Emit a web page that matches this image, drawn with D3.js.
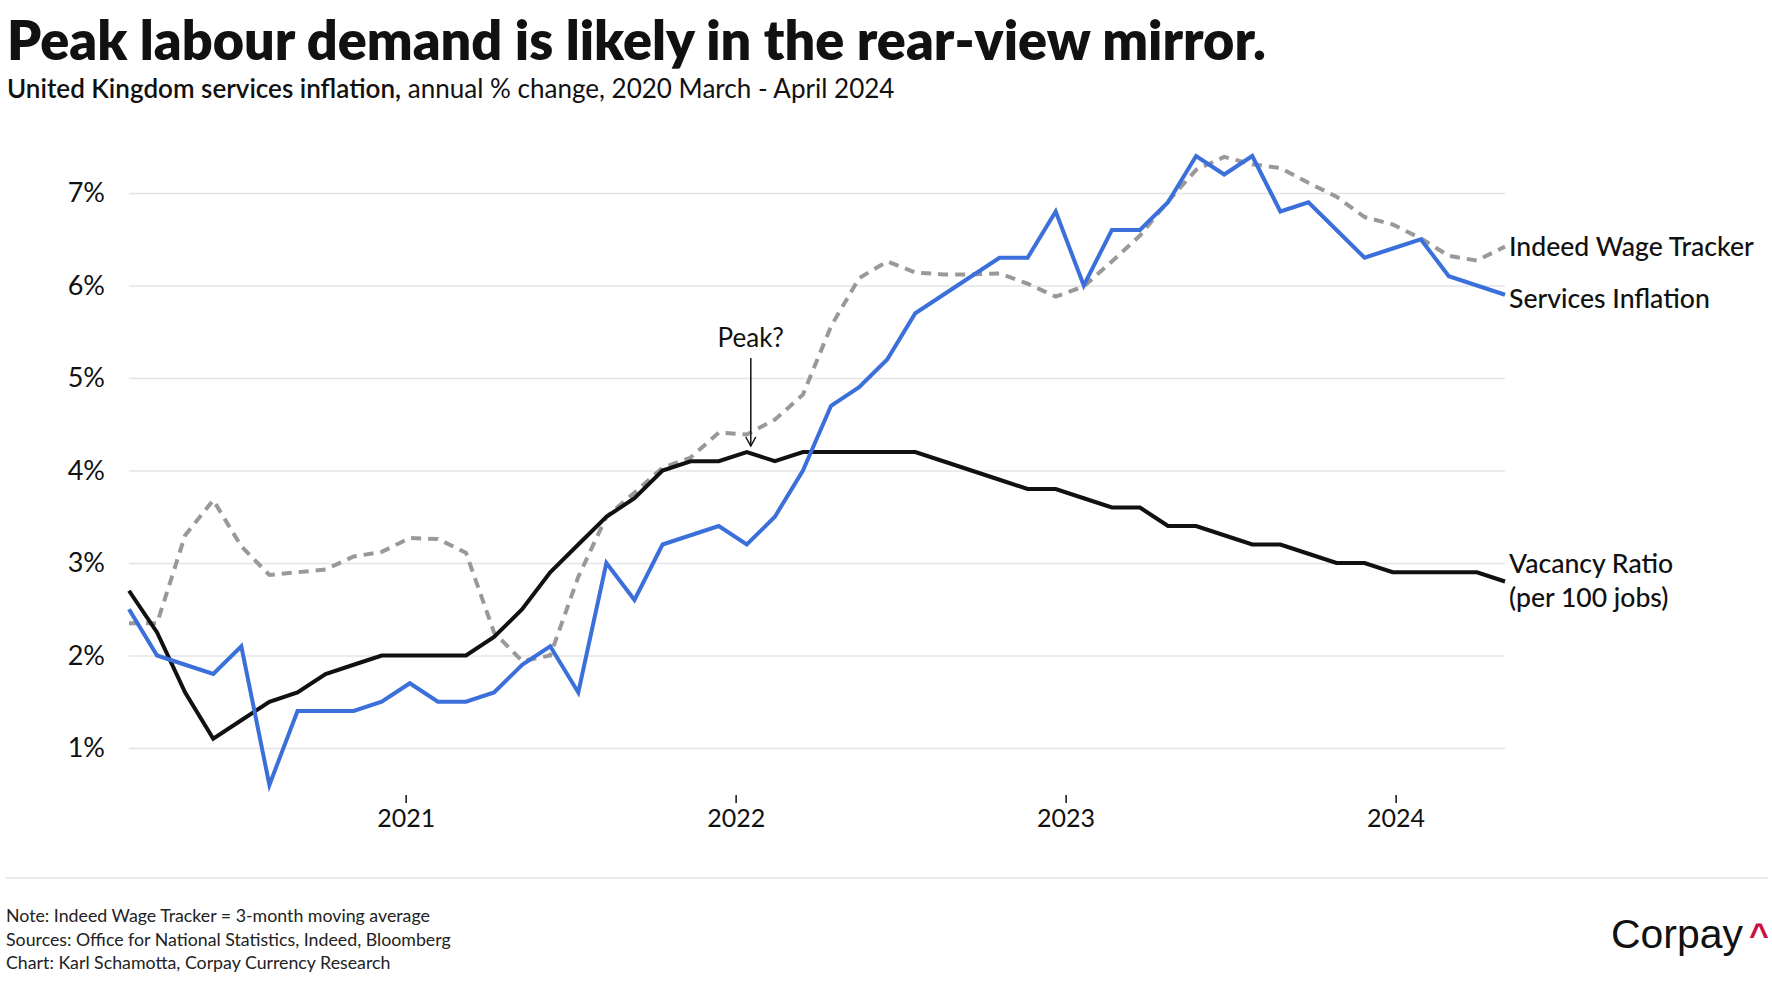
<!DOCTYPE html>
<html><head><meta charset="utf-8">
<script src="https://cdn.jsdelivr.net/npm/d3@7"></script>
<style>
body{margin:0;background:#fff;}
svg{display:block;font-family:Lato,'Noto Sans',sans-serif;}
</style>
</head><body>
<svg id="chart" width="1772" height="1000"></svg>
<script>
// ---------- DATA ----------
const firstMonth = "2020-03";
const lastMonth = "2024-04";
const servicesInflation = [2.5,2.0,1.9,1.8,2.1,0.6,1.4,1.4,1.4,1.5,
  1.7,1.5,1.5,1.6,1.9,2.1,1.6,3.0,2.6,3.2,
  3.3,3.4,3.2,3.5,4.0,4.7,4.9,5.2,5.7,5.9,
  6.1,6.3,6.3,6.8,6.0,6.6,6.6,6.9,7.4,7.2,
  7.4,6.8,6.9,6.6,6.3,6.4,6.5,6.1,6.0,5.9];
const vacancyRatio = [2.7,2.25,1.6,1.1,1.3,1.5,1.6,1.8,1.9,2.0,
  2.0,2.0,2.0,2.2,2.5,2.9,3.2,3.5,3.7,4.0,
  4.1,4.1,4.2,4.1,4.2,4.2,4.2,4.2,4.2,4.1,
  4.0,3.9,3.8,3.8,3.7,3.6,3.6,3.4,3.4,3.3,
  3.2,3.2,3.1,3.0,3.0,2.9,2.9,2.9,2.9,2.8];
const indeedWageTracker = [2.35,2.35,3.3,3.68,3.18,2.87,2.9,2.93,3.07,3.12,
  3.27,3.26,3.11,2.25,1.94,2.0,2.85,3.5,3.76,4.03,
  4.14,4.41,4.39,4.55,4.82,5.56,6.08,6.26,6.14,6.12,
  6.12,6.13,6.02,5.88,5.99,6.26,6.54,6.91,7.25,7.39,
  7.31,7.27,7.11,6.96,6.74,6.66,6.51,6.32,6.27,6.42];
const yTicks = [1,2,3,4,5,6,7];
const peakMonth = "2022-01";
const seriesNames = ["Indeed Wage Tracker","Services Inflation","Vacancy Ratio","(per 100 jobs)"];

// ---------- SETUP ----------
const parseM = d3.utcParse("%Y-%m");
const months = d3.utcMonth.range(parseM(firstMonth), d3.utcMonth.offset(parseM(lastMonth),1));
const svg = d3.select("#chart");
const L = 129, R = 1505, T = 193, B = 748;

const xPt = d3.scalePoint().domain(months.map(d=>+d)).range([L,R]);
const xTime = d3.scaleUtc().domain([parseM(firstMonth), d3.utcMonth.offset(parseM(lastMonth),1)]).range([L,R]);
const y = d3.scaleLinear().domain([1,7]).range([B,T]);

function fit(sel, target){
  const w = sel.node().getComputedTextLength();
  const fs = parseFloat(sel.attr("font-size"));
  sel.attr("font-size", fs*target/w);
}

// Title
const title = svg.append("text").attr("x",7).attr("y",60).attr("font-size",50)
  .attr("font-weight",800).attr("fill","#111")
  .text("Peak labour demand is likely in the rear-view mirror.");
fit(title,1259);
const sub = svg.append("text").attr("x",7).attr("y",98).attr("font-size",25).attr("fill","#111");
sub.append("tspan").attr("font-weight",600).text("United Kingdom services inflation,");
sub.append("tspan").attr("font-weight",400).text(" annual % change, 2020 March - April 2024");
fit(sub,888);

// Gridlines
const gy = svg.append("g").attr("transform",`translate(${L},0)`)
  .call(d3.axisLeft(y).tickValues(yTicks).tickSize(-(R-L)).tickFormat(d=>d+"%"));
gy.select(".domain").remove();
gy.selectAll(".tick line").attr("stroke","#e4e4e4").attr("stroke-width",1.5);
gy.selectAll(".tick text").attr("x",-24).attr("font-size",27).attr("fill","#111")
  .attr("font-family","Lato,'Noto Sans',sans-serif");

// X axis
const gx = svg.append("g").attr("transform","translate(0,795)")
  .call(d3.axisBottom(xTime).ticks(d3.utcYear.every(1)).tickSize(8).tickFormat(d3.utcFormat("%Y")));
gx.select(".domain").remove();
gx.selectAll(".tick").filter(d=>d.getUTCFullYear()<2021).remove();
gx.selectAll(".tick line").attr("stroke","#111").attr("stroke-width",1.5);
gx.selectAll(".tick text").attr("y",14).attr("font-size",25).attr("fill","#111")
  .attr("font-family","Lato,'Noto Sans',sans-serif");

// Lines
const mk = vals => d3.line().x((d,i)=>xPt(+months[i])).y(d=>y(d))(vals);
svg.append("path").attr("d",mk(indeedWageTracker)).attr("fill","none")
  .attr("stroke","#999").attr("stroke-width",4).attr("stroke-dasharray","10,7");
svg.append("path").attr("d",mk(vacancyRatio)).attr("fill","none")
  .attr("stroke","#111").attr("stroke-width",4).attr("stroke-linejoin","miter");
svg.append("path").attr("d",mk(servicesInflation)).attr("fill","none")
  .attr("stroke","#3b6fd9").attr("stroke-width",4).attr("stroke-linejoin","miter");

// Peak annotation
const pi = months.findIndex(d=>+d===+parseM(peakMonth));
const px = xPt(+months[pi]) + 4, py = y(vacancyRatio[pi]) - 6;
svg.append("line").attr("x1",px).attr("x2",px).attr("y1",py-88).attr("y2",py)
  .attr("stroke","#111").attr("stroke-width",1.5);
svg.append("path").attr("d",`M${px-5},${py-9}L${px},${py}L${px+5},${py-9}`)
  .attr("fill","none").attr("stroke","#111").attr("stroke-width",1.5);
svg.append("text").attr("x",px).attr("y",py-99).attr("text-anchor","middle")
  .attr("font-size",26).attr("fill","#111").text("Peak?");

// Series labels
const lab = (t,yy)=>svg.append("text").attr("x",1509).attr("y",yy).attr("font-size",26)
  .attr("font-weight",500).attr("fill","#111").text(t);
const l1 = lab(seriesNames[0],256);
fit(l1,245);
const fs = l1.attr("font-size");
[lab(seriesNames[1],308),lab(seriesNames[2],573),lab(seriesNames[3],607)].forEach(s=>s.attr("font-size",fs));

// Separator
svg.append("line").attr("x1",6).attr("x2",1768).attr("y1",878).attr("y2",878)
  .attr("stroke","#e2e2e2").attr("stroke-width",1.5);

// Footer
const foot = ["Note: Indeed Wage Tracker = 3-month moving average",
  "Sources: Office for National Statistics, Indeed, Bloomberg",
  "Chart: Karl Schamotta, Corpay Currency Research"];
const fl = foot.map((t,i)=>svg.append("text").attr("x",6).attr("y",922+i*23.5)
  .attr("font-size",17).attr("fill","#222").text(t));
fit(fl[1],445);
fl.forEach(s=>s.attr("font-size",fl[1].attr("font-size")));

// Logo
const logo = svg.append("text").attr("x",1611).attr("y",948).attr("font-size",36)
  .attr("font-family","'Liberation Sans',Arial,sans-serif").attr("fill","#111").text("Corpay");
fit(logo,132);
svg.append("text").attr("x",1749).attr("y",946).attr("font-size",34).attr("font-weight",700)
  .attr("font-family","'Liberation Sans',Arial,sans-serif").attr("fill","#cc0f3c").text("^");
</script>
</body></html>
